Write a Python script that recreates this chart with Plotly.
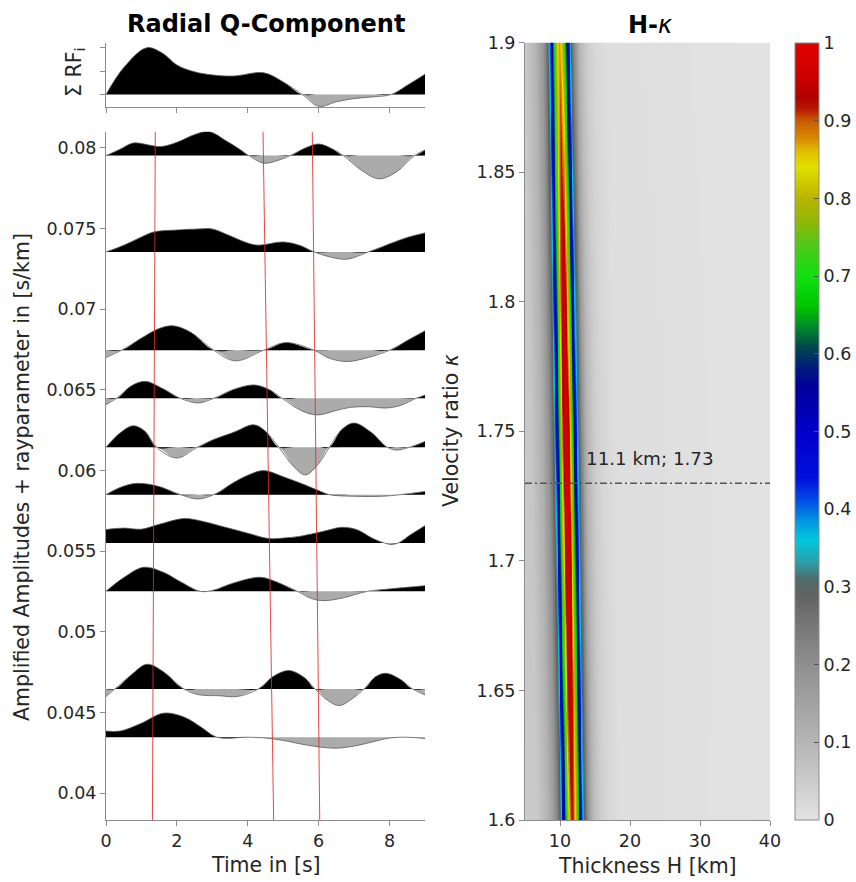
import numpy as np
import plotly.graph_objects as go

# ---------------- DATA ----------------
# Receiver-function traces: baseline ray parameter [s/km], times [s] and amplitudes (x1e-3 s/km)
ray_params = [0.07952, 0.07355, 0.06746, 0.06448, 0.06144, 0.05851, 0.05552, 0.05252, 0.04647, 0.04348]

trace_times = [
    [0, 0.4, 0.77, 1.2, 1.55, 2.0, 2.5, 2.9, 3.4, 3.8, 4.03, 4.45, 4.85, 5.2, 5.6, 6.0, 6.4, 6.7, 7.2, 7.7, 8.2, 8.7, 9.0],
    [0, 0.5, 1.0, 1.35, 2.0, 2.6, 3.0, 3.5, 4.0, 4.3, 5.0, 5.5, 5.87, 6.3, 6.8, 7.4, 8.0, 8.5, 9.0],
    [0, 0.44, 1.0, 1.5, 1.9, 2.4, 3.04, 3.65, 4.45, 5.07, 5.87, 6.3, 6.8, 7.4, 8.0, 8.5, 9.0],
    [0, 0.3, 0.7, 1.1, 1.6, 2.1, 2.6, 3.04, 3.6, 4.17, 4.6, 4.97, 5.5, 5.96, 6.5, 6.9, 7.4, 7.9, 8.3, 8.75, 9.0],
    [0, 0.4, 0.77, 1.1, 1.43, 2.0, 2.57, 3.0, 3.6, 4.17, 4.5, 4.88, 5.3, 5.63, 6.0, 6.3, 6.65, 7.0, 7.5, 7.94, 8.2, 8.55, 9.0],
    [0, 0.4, 0.87, 1.5, 2.1, 2.6, 3.04, 3.6, 4.0, 4.45, 5.0, 5.5, 6.0, 6.3, 7.0, 7.8, 8.3, 9.0],
    [0, 0.5, 1.0, 1.5, 2.2, 2.8, 3.4, 4.0, 4.6, 5.0, 5.5, 6.1, 6.67, 7.1, 7.5, 7.85, 8.04, 8.25, 8.6, 9.0],
    [0, 0.5, 1.06, 1.6, 2.1, 2.66, 3.0, 3.6, 4.36, 4.9, 5.4, 5.8, 6.15, 6.7, 7.38, 8.0, 8.5, 9.0],
    [0, 0.25, 0.7, 1.15, 1.6, 2.2, 2.6, 3.2, 3.7, 4.3, 4.7, 5.16, 5.6, 5.9, 6.25, 6.58, 6.95, 7.28, 7.6, 7.9, 8.3, 8.65, 9.0],
    [0, 0.4, 1.0, 1.62, 2.2, 2.7, 3.13, 4.0, 4.5, 5.0, 5.7, 6.43, 7.0, 7.5, 8.0, 8.5, 9.0],
]
trace_amps = [
    [0, 0.4, 0.78, 0.66, 0.56, 0.82, 1.3, 1.49, 0.9, 0.35, 0, -0.47, -0.3, 0, 0.45, 0.72, 0.4, 0, -0.9, -1.44, -1.0, 0, 0.35],
    [0, 0.41, 0.93, 1.24, 1.36, 1.42, 1.42, 1.0, 0.55, 0.42, 0.62, 0.38, 0, -0.3, -0.45, 0, 0.5, 0.9, 1.18],
    [-0.45, 0, 0.75, 1.35, 1.51, 1.1, 0, -0.66, 0, 0.47, 0, -0.5, -0.7, -0.45, 0, 0.6, 1.2],
    [-0.39, 0, 0.75, 1.05, 0.6, 0, -0.29, 0, 0.55, 0.83, 0.55, 0, -0.75, -1.03, -0.75, -0.56, -0.52, -0.6, -0.45, 0, 0.2],
    [0, 0.9, 1.34, 1.0, 0, -0.66, 0, 0.45, 0.93, 1.4, 1.0, 0, -1.2, -1.71, -1.0, 0, 1.1, 1.51, 0.9, 0, -0.17, 0, 0.37],
    [0, 0.45, 0.7, 0.5, 0, -0.27, 0, 0.75, 1.2, 1.49, 1.11, 0.7, 0.25, 0, -0.1, -0.1, 0, 0.2],
    [0.83, 0.92, 0.85, 1.15, 1.51, 1.3, 0.95, 0.6, 0.27, 0.3, 0.42, 0.7, 0.97, 0.8, 0.31, 0, -0.1, 0, 0.52, 1.07],
    [0, 0.85, 1.49, 1.2, 0.6, 0, 0.05, 0.52, 0.87, 0.5, 0, -0.45, -0.58, -0.4, 0, 0.15, 0.25, 0.35],
    [-0.47, 0, 0.85, 1.53, 1.1, 0, -0.35, -0.42, -0.47, 0, 0.75, 1.14, 0.7, 0, -0.7, -1.03, -0.6, 0, 0.75, 0.97, 0.6, 0, -0.37],
    [0.38, 0.38, 0.87, 1.49, 1.25, 0.6, 0, 0.0, -0.05, -0.2, -0.5, -0.68, -0.55, -0.3, -0.05, 0, -0.08],
]

# Stacked (summed) receiver function
sum_times = [0, 0.5, 1.15, 1.6, 2.0, 2.5, 3.04, 3.6, 4.45, 5.0, 5.54, 6.0, 6.5, 7.0, 7.5, 8.04, 8.5, 9.0]
sum_amps = [0, 1.15, 2.0, 1.76, 1.26, 0.97, 0.83, 0.79, 0.93, 0.54, 0, -0.5, -0.31, -0.17, -0.1, 0, 0.4, 0.87]

# Predicted phase moveout lines (Ps, PpPs, PpSs): ray parameter end points and times
moveout_p = [0.03835, 0.081]
moveout_t = [[1.31, 1.39], [4.73, 4.43], [6.03, 5.82]]

# H-kappa stack: ridge centre, peak values along kappa, cross-section profile
ridge_kappa = [1.6, 1.73, 1.9]
ridge_H = [11.75, 11.0, 9.95]
peak_kappa = [1.6, 1.65, 1.73, 1.8, 1.85, 1.9]
peak_val = [0.93, 0.97, 1.0, 0.97, 0.93, 0.88]
profile_offset = [-8, -5, -3.5, -2.5, -2.0, -1.6, -1.2, -0.8, -0.4, 0, 0.4, 0.8, 1.2, 1.6, 2.0, 2.5, 3.0, 4.0, 5.0, 7.0, 35]
profile_value = [0.05, 0.06, 0.11, 0.19, 0.26, 0.35, 0.55, 0.76, 0.93, 1.0, 0.93, 0.76, 0.55, 0.35, 0.26, 0.16, 0.1, 0.05, 0.03, 0.01, 0.0]
H_grid = np.round(np.arange(5, 40.0001, 0.1), 3)
kappa_grid = np.round(np.arange(1.6, 1.90001, 0.0025), 4)
best_H, best_kappa = 11.1, 1.73

x_ticks = [0, 2, 4, 6, 8]
p_ticks = [0.04, 0.045, 0.05, 0.055, 0.06, 0.065, 0.07, 0.075, 0.08]
p_ticktext = ["0.04", "0.045", "0.05", "0.055", "0.06", "0.065", "0.07", "0.075", "0.08"]
k_ticks = [1.6, 1.65, 1.7, 1.75, 1.8, 1.85, 1.9]
k_ticktext = ["1.6", "1.65", "1.7", "1.75", "1.8", "1.85", "1.9"]
H_ticks = [10, 20, 30, 40]
cb_ticks = [0, 0.1, 0.2, 0.3, 0.4, 0.5, 0.6, 0.7, 0.8, 0.9, 1]
cb_ticktext = ["0", "0.1", "0.2", "0.3", "0.4", "0.5", "0.6", "0.7", "0.8", "0.9", "1"]

colorscale = [
    [0, '#e3e3e3'], [0.05, '#cbcbcb'], [0.1, '#b5b5b5'], [0.15, '#a2a2a2'], [0.2, '#8f8f8f'],
    [0.25, '#777777'], [0.29, '#626262'], [0.31, '#4f6a6c'], [0.33, '#2e9aa4'], [0.36, '#00c8dc'],
    [0.385, '#0096e0'], [0.41, '#0050e6'], [0.44, '#0010dc'], [0.5, '#0000c8'], [0.56, '#00009a'],
    [0.585, '#00207a'], [0.61, '#004a4a'], [0.635, '#008a2a'], [0.66, '#00c400'], [0.7, '#10e010'],
    [0.74, '#50c818'], [0.77, '#90b808'], [0.8, '#b8b400'], [0.82, '#d0c800'], [0.84, '#e0e000'],
    [0.86, '#e0c000'], [0.875, '#d89000'], [0.9, '#c85a00'], [0.915, '#b81800'], [0.93, '#b00000'],
    [0.96, '#d00000'], [1.0, '#e00000'],
]

# ---------------- FIGURE ----------------
W, Hpx = 856, 882
def px(x):
    return x / W
def py(y):
    return 1 - y / Hpx

FONT = "DejaVu Sans"
TXT = "#262626"
AX = "#8c8c8c"
NEG = "#ababab"
OUT = "#5a5a5a"

fig = go.Figure()

def add_wiggle(t, a, base, scale, xa, ya):
    t = np.asarray(t, float)
    a = np.asarray(a, float)
    b = np.full_like(t, base)
    pos = base + np.maximum(a, 0) * scale
    neg = base + np.minimum(a, 0) * scale
    full = base + a * scale
    common = dict(xaxis=xa, yaxis=ya, showlegend=False, hoverinfo="skip", mode="lines")
    fig.add_trace(go.Scatter(x=t, y=b, line=dict(width=0), **common))
    fig.add_trace(go.Scatter(x=t, y=neg, fill="tonexty", fillcolor=NEG,
                             line=dict(width=0, shape="spline", smoothing=1), **common))
    fig.add_trace(go.Scatter(x=t, y=b, line=dict(width=0), **common))
    fig.add_trace(go.Scatter(x=t, y=pos, fill="tonexty", fillcolor="black",
                             line=dict(width=0, shape="spline", smoothing=1), **common))
    fig.add_trace(go.Scatter(x=t, y=full, line=dict(width=0.8, color=OUT, shape="spline", smoothing=1), **common))

# Sum panel
add_wiggle(sum_times, sum_amps, 0.0, 1.0, "x2", "y2")

# Individual traces
for p, t, a in zip(ray_params, trace_times, trace_amps):
    add_wiggle(t, a, p, 1e-3, "x", "y")

# Moveout lines
for tt in moveout_t:
    fig.add_trace(go.Scatter(x=tt, y=moveout_p, mode="lines", xaxis="x", yaxis="y",
                             line=dict(color="rgba(225,40,40,0.85)", width=1),
                             showlegend=False, hoverinfo="skip"))

# H-kappa heatmap
centres = np.interp(kappa_grid, ridge_kappa, ridge_H)
peaks = np.interp(kappa_grid, peak_kappa, peak_val)
Z = np.array([pk * np.interp(H_grid - c, profile_offset, profile_value) for c, pk in zip(centres, peaks)])
fig.add_trace(go.Heatmap(
    x=H_grid, y=kappa_grid, z=Z, xaxis="x3", yaxis="y3", zmin=0, zmax=1,
    colorscale=colorscale, hoverinfo="skip",
    colorbar=dict(x=px(795), xanchor="left", thickness=24, thicknessmode="pixels",
                  len=(820 - 42.7) / Hpx, lenmode="fraction", y=py(820), yanchor="bottom",
                  xpad=0, ypad=0,
                  outlinewidth=1, outlinecolor=AX, tickvals=cb_ticks, ticktext=cb_ticktext,
                  ticks="inside", ticklen=5, tickcolor="#555555",
                  tickfont=dict(family=FONT, size=17.5, color=TXT)),
))
fig.add_trace(go.Scatter(x=[5, 40], y=[best_kappa, best_kappa], mode="lines", xaxis="x3", yaxis="y3",
                         line=dict(color="#555555", width=1.5, dash="7px,3px,2px,3px"),
                         showlegend=False, hoverinfo="skip"))

axis_common = dict(showline=True, linecolor=AX, linewidth=1, ticks="outside", tickcolor=AX,
                   ticklen=5, showgrid=False, zeroline=False, mirror=False, automargin=False,
                   tickfont=dict(family=FONT, size=17.5, color=TXT))

fig.update_layout(
    width=W, height=Hpx, margin=dict(l=0, r=0, t=0, b=0, autoexpand=False),
    paper_bgcolor="white", plot_bgcolor="white",
    font=dict(family=FONT, color=TXT),
    xaxis=dict(domain=[px(106), px(425)], range=[0, 9], tickvals=x_ticks, anchor="y", **axis_common),
    yaxis=dict(domain=[py(820), py(131.7)], range=[0.03835, 0.081], tickvals=p_ticks,
               ticktext=p_ticktext, anchor="x", **axis_common),
    xaxis2=dict(domain=[px(106), px(425)], range=[0, 9], tickvals=x_ticks, showticklabels=False,
                anchor="y2", **axis_common),
    yaxis2=dict(domain=[py(107), py(43)], range=[-0.53, 2.2], tickvals=[0, 1, 2], showticklabels=False,
                anchor="x2", **axis_common),
    xaxis3=dict(domain=[px(525), px(770)], range=[5, 40], tickvals=H_ticks, anchor="y3", **axis_common),
    yaxis3=dict(domain=[py(820), py(42.7)], range=[1.6, 1.9], tickvals=k_ticks, ticktext=k_ticktext,
                anchor="x3", **axis_common),
)

ann = [
    dict(text="<b>Radial Q-Component</b>", x=px(266), y=py(24), size=24, angle=0, color="black"),
    dict(text="<b>H-</b><i>κ</i>", x=px(650), y=py(25), size=24, angle=0, color="black"),
    dict(text="Time in [s]", x=px(265.5), y=py(865), size=20.5, angle=0, color=TXT),
    dict(text="Thickness H [km]", x=px(647.5), y=py(866), size=20.5, angle=0, color=TXT),
    dict(text="Amplified Amplitudes + rayparameter in [s/km]", x=px(22), y=py(477), size=20.5, angle=-90, color=TXT),
    dict(text="Σ RF<sub>i</sub>", x=px(75), y=py(72), size=20.5, angle=-90, color=TXT),
    dict(text="Velocity ratio <i>κ</i>", x=px(451), y=py(431), size=20.5, angle=-90, color=TXT),
]
for a in ann:
    fig.add_annotation(text=a["text"], x=a["x"], y=a["y"], xref="paper", yref="paper",
                       showarrow=False, textangle=a["angle"], xanchor="center", yanchor="middle",
                       font=dict(family=FONT, size=a["size"], color=a["color"]))

fig.add_annotation(text=f"{best_H} km; {best_kappa}", x=13.4, y=1.7396, xref="x3", yref="y3",
                   showarrow=False, xanchor="left", yanchor="middle",
                   font=dict(family=FONT, size=18.3, color=TXT))

fig.write_html("out.html")
